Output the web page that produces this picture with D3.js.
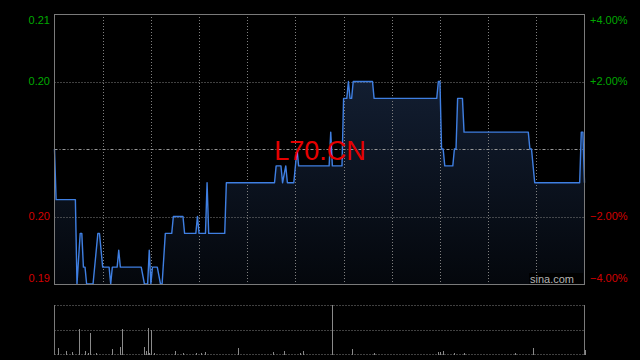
<!DOCTYPE html>
<html>
<head>
<meta charset="utf-8">
<script src="https://cdn.jsdelivr.net/npm/d3@7"></script>
<style>
  html, body { margin: 0; padding: 0; background: #000; }
  svg { display: block; }
</style>
</head>
<body>
<svg id="chart" width="640" height="360"></svg>
<script>
const symbol = "L70.CN";
const preClose = 0.200;
const sessionMinutes = 330;

// price change points: trading minute and price
const tickMinutes = [0, 1, 13, 14, 16, 17, 18, 19, 20, 24, 27, 28, 30, 34, 35, 36, 39, 40, 41, 54,
  56, 58, 59, 60, 61, 64, 66, 67, 69, 73, 74, 80, 81, 88, 89, 90, 94, 95, 96, 106,
  107, 137, 138, 141, 142, 144, 145, 149, 151, 152, 171, 172, 173, 179, 180, 182, 183, 184, 185, 186,
  198, 199, 238, 239, 240, 241, 242, 243, 248, 249, 250, 251, 254, 255, 295, 296, 297, 299, 327, 328,
  329, 330];
const tickPrices = [0.200, 0.197, 0.197, 0.192, 0.195, 0.195, 0.193, 0.193, 0.192, 0.192, 0.195, 0.195, 0.193, 0.193, 0.192, 0.193, 0.193, 0.194, 0.193, 0.193,
  0.192, 0.192, 0.194, 0.192, 0.193, 0.193, 0.192, 0.192, 0.195, 0.195, 0.196, 0.196, 0.195, 0.195, 0.196, 0.195, 0.195, 0.198, 0.195, 0.195,
  0.198, 0.198, 0.199, 0.199, 0.198, 0.199, 0.198, 0.198, 0.200, 0.199, 0.199, 0.201, 0.199, 0.199, 0.203, 0.203, 0.204, 0.203, 0.203, 0.204,
  0.204, 0.203, 0.203, 0.204, 0.204, 0.200, 0.200, 0.199, 0.199, 0.200, 0.200, 0.203, 0.203, 0.201, 0.201, 0.200, 0.200, 0.198, 0.198, 0.201,
  0.201, 0.198];

const volMinutes = [2, 7, 11, 15, 19, 21, 22, 26, 36, 41, 42, 56, 57, 58, 59, 60, 62, 75, 80, 88,
  91, 94, 114, 136, 143, 153, 155, 173, 185, 199, 239, 240, 242, 249, 255, 287, 298, 330];
const volumes = [60000, 30000, 20000, 250000, 30000, 10000, 210000, 10000, 50000, 70000, 250000, 70000, 30000, 260000, 10000, 240000, 10000, 30000, 10000, 10000,
  10000, 20000, 60000, 20000, 30000, 10000, 30000, 490000, 50000, 10000, 20000, 20000, 30000, 10000, 10000, 10000, 60000, 40000];

const priceTicks = [0.208, 0.204, 0.196, 0.192];

const up = "#00a800", down = "#d20000";
const gridColor = "#808080";

const svg = d3.select("#chart");
const plot = {left: 54.5, right: 584.5, top: 14, bottom: 284};
const volBox = {top: 305, bottom: 354};

const x = d3.scaleLinear().domain([0, sessionMinutes]).range([plot.left, plot.right]);
const y = d3.scaleLinear().domain([preClose * 0.96, preClose * 1.04]).range([plot.bottom, plot.top]);
const yv = d3.scaleLinear().domain([0, d3.max(volumes)]).range([volBox.bottom, volBox.top]);

const crisp = v => Math.round(v) + 0.5;

svg.append("rect").attr("width", 640).attr("height", 360).attr("fill", "#000");

const defs = svg.append("defs");
const grad = defs.append("linearGradient")
    .attr("id", "fillGrad")
    .attr("gradientUnits", "userSpaceOnUse")
    .attr("x1", 0).attr("y1", plot.top).attr("x2", 0).attr("y2", plot.bottom);
grad.append("stop").attr("offset", "0%").attr("stop-color", "#17253d");
grad.append("stop").attr("offset", "100%").attr("stop-color", "#04070c");

const points = tickMinutes.map((m, i) => [m, tickPrices[i]]);

// area under price line
svg.append("path")
    .datum(points)
    .attr("fill", "url(#fillGrad)")
    .attr("d", d3.area().x(d => x(d[0])).y0(plot.bottom).y1(d => y(d[1])));

// vertical grid every 30 minutes
const gridMinutes = d3.range(30, sessionMinutes, 30);
svg.append("g").selectAll("line")
    .data(gridMinutes)
    .join("line")
    .attr("x1", d => crisp(x(d))).attr("x2", d => crisp(x(d)))
    .attr("y1", plot.top).attr("y2", plot.bottom)
    .attr("stroke", gridColor).attr("stroke-dasharray", "1,2");

// horizontal grid
svg.append("g").selectAll("line")
    .data([0.204, 0.196])
    .join("line")
    .attr("x1", plot.left).attr("x2", plot.right)
    .attr("y1", d => crisp(y(d))).attr("y2", d => crisp(y(d)))
    .attr("stroke", gridColor).attr("stroke-dasharray", "1,2");

// previous close line
svg.append("line")
    .attr("x1", plot.left).attr("x2", plot.right)
    .attr("y1", crisp(y(preClose))).attr("y2", crisp(y(preClose)))
    .attr("stroke", "#9a9a9a").attr("stroke-dasharray", "3,2,1,2");

// price line
svg.append("path")
    .datum(points)
    .attr("fill", "none")
    .attr("stroke", "#3f7fe2")
    .attr("stroke-width", 1.4)
    .attr("stroke-linejoin", "round")
    .attr("d", d3.line().x(d => x(d[0])).y(d => y(d[1])));

// frame
svg.append("rect")
    .attr("x", 54.5).attr("y", 14.5)
    .attr("width", 530).attr("height", 270)
    .attr("fill", "none").attr("stroke", "#7a7a7a");

// axis labels
const fmtPrice = d3.format(".2f");
const fmtPct = d3.format("+.2%");
const labelY = d => {
    const v = y(d);
    if (v < plot.top + 3) return v + 6;
    if (v > plot.bottom - 3) return v - 6;
    return v;
};

svg.append("g").selectAll("text")
    .data(priceTicks)
    .join("text")
    .attr("x", 50)
    .attr("y", labelY)
    .attr("dy", "0.35em")
    .attr("text-anchor", "end")
    .attr("font-family", "Liberation Sans, Arial, sans-serif")
    .attr("font-size", 11)
    .attr("fill", d => d > preClose ? up : down)
    .text(d => fmtPrice(d));

svg.append("g").selectAll("text")
    .data(priceTicks)
    .join("text")
    .attr("x", 590)
    .attr("y", labelY)
    .attr("dy", "0.35em")
    .attr("font-family", "Liberation Sans, Arial, sans-serif")
    .attr("font-size", 11)
    .attr("fill", d => d > preClose ? up : down)
    .text(d => fmtPct((d - preClose) / preClose));

// symbol title
svg.append("text")
    .attr("x", 320)
    .attr("y", 160)
    .attr("text-anchor", "middle")
    .attr("font-family", "Liberation Sans, Arial, sans-serif")
    .attr("font-size", 27)
    .attr("fill", "#e60000")
    .text(symbol);

// watermark
svg.append("rect")
    .attr("x", 529).attr("y", 273).attr("width", 54).attr("height", 11)
    .attr("fill", "#000");
svg.append("text")
    .attr("x", 574)
    .attr("y", 283)
    .attr("text-anchor", "end")
    .attr("font-family", "Liberation Sans, Arial, sans-serif")
    .attr("font-size", 11)
    .attr("fill", "#b4b4b4")
    .text("sina.com");

// volume panel
svg.append("g").selectAll("line")
    .data([volBox.top, (volBox.top + volBox.bottom) / 2, volBox.bottom])
    .join("line")
    .attr("x1", plot.left).attr("x2", plot.right)
    .attr("y1", d => crisp(d)).attr("y2", d => crisp(d))
    .attr("stroke", gridColor).attr("stroke-dasharray", "1,2");

svg.append("g").selectAll("line")
    .data([plot.left, plot.right])
    .join("line")
    .attr("x1", d => d).attr("x2", d => d)
    .attr("y1", volBox.top).attr("y2", volBox.bottom + 1)
    .attr("stroke", "#7a7a7a");

svg.append("g").selectAll("rect")
    .data(volMinutes.map((m, i) => [m, volumes[i]]))
    .join("rect")
    .attr("x", d => Math.round(x(d[0])))
    .attr("y", d => yv(d[1]))
    .attr("width", 1)
    .attr("height", d => volBox.bottom + 1 - yv(d[1]))
    .attr("fill", "#8a8a8a");
</script>
</body>
</html>
